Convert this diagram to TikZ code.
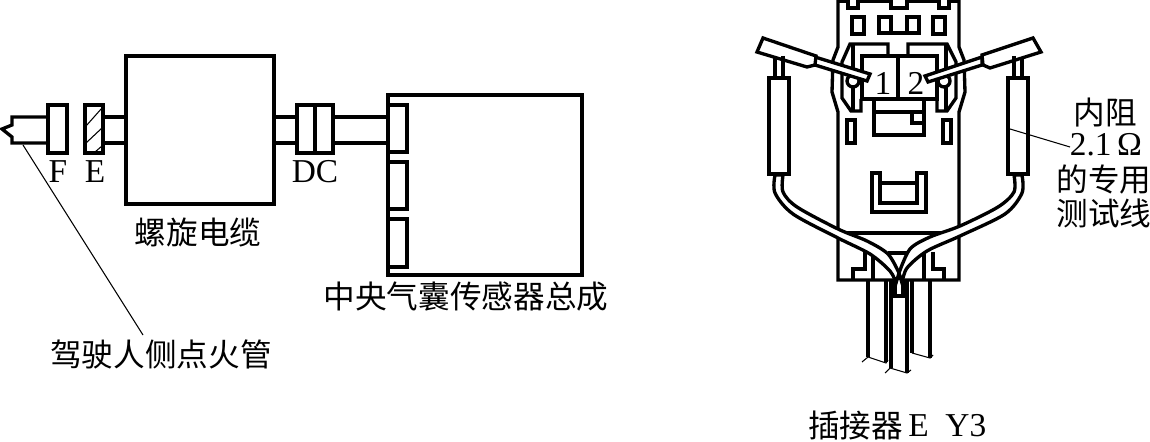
\documentclass[tikz,border=0pt]{standalone}
\usepackage{fontspec}
\setmainfont{Liberation Serif}
\newfontfamily\cjk{Noto Sans CJK SC}
\usepackage{tikz}
\usetikzlibrary{calc,positioning}
\tikzset{
  ln/.style={line width=1.9pt,black,line join=miter},
  rl/.style={line width=1.9pt,black},
  thn/.style={line width=0.6pt,black},
  cn/.style={font=\fontsize{18}{20}\selectfont\cjk,inner sep=0pt},
  lt/.style={font=\fontsize{19}{20}\selectfont,inner sep=0pt}
}
\begin{document}
\begin{tikzpicture}[x=0.02cm,y=-0.02cm]
\useasboundingbox (0,0) rectangle (1150,442);
\fill[white] (0,0) rectangle (1150,442);
% left part
\draw[ln] (48,117) -- (12,117) -- (12,125) -- (2,129) -- (12,137) -- (12,143) -- (48,143);
\draw[ln] (48,105) rectangle (67,153);
\draw[ln] (85,105) rectangle (103,153);
\draw[thn] (86,126) -- (102,108) (86,143) -- (102,128) (95,152) -- (102,146);
\draw[ln] (103,117) -- (126,117) (103,143) -- (126,143);
\draw[ln] (126,56) rectangle (274,204);
\draw[ln] (274,117) -- (297,117) (274,143) -- (297,143);
\draw[ln] (297,105) rectangle (333,153);
\draw[ln] (315,105) -- (315,153);
\draw[ln] (333,117) -- (388,117) (333,143) -- (388,143);
\draw[ln] (388,95) rectangle (582,275);
\draw[ln] (388,105) rectangle (407,152);
\draw[ln] (388,162) rectangle (407,209);
\draw[ln] (388,219) rectangle (407,267);
\coordinate (tipF) at (23,145);
\coordinate (tipL) at (143,335);
\draw[thn] (tipF) -- (tipL);
\node[lt] (lF) at (58,172) {F};
\node[lt] (lE) at (95,172) {E};
\node[lt] (lDC) at (315,172) {DC};
\node[cn] (lspiral) at (198,232) {螺旋电缆};
\node[cn] (lsensor) at (466,297) {中央气囊传感器总成};
\node[cn] (ldriver) at (161,354) {驾驶人侧点火管};
% connector body
\draw[rl] (838,0) -- (838,47) -- (833,60) -- (832,92) -- (838,112) -- (838,280) -- (959,280) -- (959,112) -- (965,92) -- (964,60) -- (959,47) -- (959,0);
\draw[rl] (838,1) -- (848,1) -- (848,8) -- (858,8) -- (858,1) -- (891,1) -- (891,8) -- (907,8) -- (907,1) -- (939,1) -- (939,8) -- (949,8) -- (949,1) -- (959,1);
\draw[rl] (852,17) rectangle (864,34);
\draw[rl] (933,17) rectangle (945,34);
\draw[rl] (879,17) rectangle (891,33);
\draw[rl] (907,17) rectangle (919,33);
\draw[rl] (891,33) -- (907,33);
% latches
\draw[rl] (888,54) -- (888,44) -- (850,44) -- (842,62) -- (842,98) -- (851,111) -- (861,111) -- (861,99);
\draw[rl] (908,54) -- (908,44) -- (947,44) -- (956,62) -- (956,98) -- (947,111) -- (937,111) -- (937,99);
\draw[rl] (853,45) -- (853,110) (946,45) -- (946,110);
\draw[rl] (862,56) rectangle (937,99);
\draw[rl] (898,56) -- (898,99);
\draw[rl] (874,99) -- (874,135) -- (924,135) -- (924,99);
\draw[rl] (874,112) -- (924,112) (912,112) -- (912,123) -- (924,123);
\draw[rl] (847,120) rectangle (855,143);
\draw[rl] (943,120) rectangle (951,143);
\draw[rl] (872,173) -- (872,212) -- (926,212) -- (926,173) -- (917,173) -- (917,203) -- (880,203) -- (880,173) -- cycle;
\draw[rl] (880,183) -- (917,183);
\draw[rl,fill=white] (853,81) circle (6);
\draw[rl,fill=white] (944,81) circle (6);
\node[lt] (pin1) at (883,83) {1};
\node[lt] (pin2) at (916,83) {2};
% probes
\draw[rl,fill=white] (815,57) -- (870,74) -- (867,81) -- (815,65) -- cycle;
\draw[rl,fill=white] (763,38) -- (757,52) -- (807,67) -- (815,65) -- (816,56) -- cycle;
\draw[rl,fill=white] (982,57) -- (925,76) -- (928,82) -- (982,65) -- cycle;
\draw[rl,fill=white] (1033,38) -- (1041,52) -- (990,68) -- (983,65) -- (982,55) -- cycle;
\draw[rl] (775,58) -- (775,78) (783,56) -- (783,78);
\draw[rl] (1014,56) -- (1014,78) (1022,58) -- (1022,78);
\draw[rl] (769,78) rectangle (789,174);
\draw[rl] (1008,78) rectangle (1028,174);
% lower body
\draw[rl] (838,233) -- (959,233);
\draw[rl] (888,253) -- (910,253);
\draw[rl] (865,252) -- (865,269) -- (853,269) -- (853,280);
\draw[rl] (873,253) -- (873,280) (924,253) -- (924,280);
\draw[rl] (933,252) -- (933,269) -- (944,269) -- (944,280);
% leads
\draw[rl] (868,280) -- (868,357) (886,280) -- (886,362);
\draw[rl] (891,280) -- (891,368) (907,280) -- (907,373);
\draw[rl] (912,280) -- (912,353) (930,280) -- (930,358);
\draw[thn] (862,362) -- (868,357) -- (886,363) -- (888,360);
\draw[thn] (885,373) -- (890,368) -- (907,373) -- (911,370);
\draw[thn] (912,353) -- (930,358) -- (933,355);
\draw[rl,fill=white] (895,280) -- (895,296) -- (903,296) -- (903,280);
% test wires
\draw[rl,fill=white] plot[smooth] coordinates {(775,175) (775,193) (793,214) (838,238) (870,254) (890,271) (896,283)} -- plot[smooth] coordinates {(899,273) (888,254) (867,241) (838,229) (797,207) (783,192) (783,175)} -- cycle;
\draw[rl,fill=white] plot[smooth] coordinates {(1022,175) (1022,193) (1005,214) (960,236) (927,251) (907,268) (902,283)} -- plot[smooth] coordinates {(899,273) (910,249) (930,237) (960,226) (998,207) (1014,192) (1014,175)} -- cycle;
% text right
\coordinate (tipR) at (1010,129);
\coordinate (tipO) at (1070,147);
\draw[thn] (tipR) -- (tipO);
\node[cn] (lres) at (1105,113) {内阻};
\node[lt] (lval) at (1106,145) {2.1\,Ω};
\node[cn] (lspec) at (1104,180) {的专用};
\node[cn] (lwire) at (1104,213) {测试线};
\node[cn,anchor=west] (lconn) at (808,426) {插接器};
\node[lt,anchor=west] (lname) at (908,426) {E\ \ Y3};
\end{tikzpicture}
\end{document}
